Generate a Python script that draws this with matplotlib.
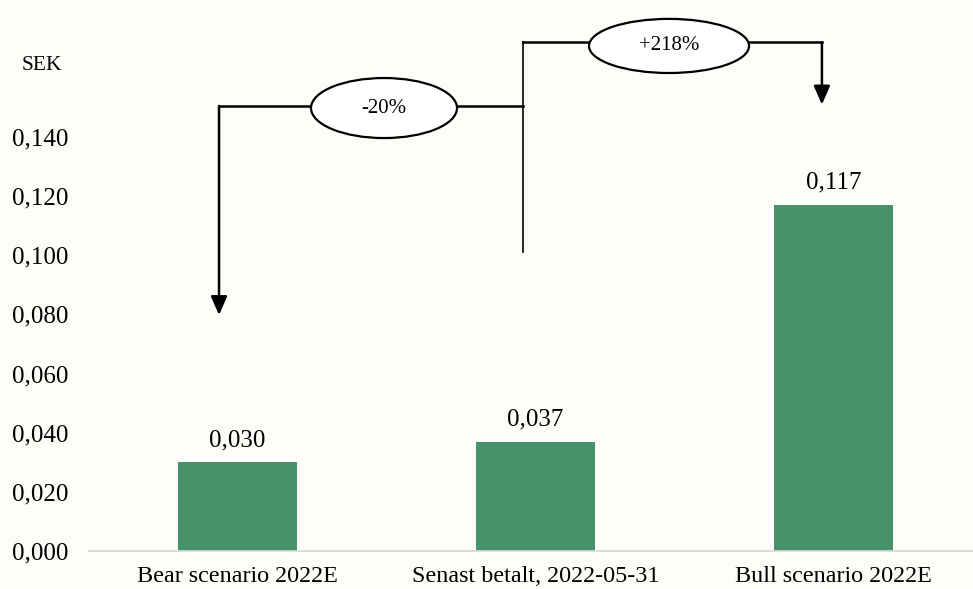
import matplotlib
matplotlib.use("Agg")
import matplotlib.pyplot as plt
from matplotlib.patches import Ellipse

categories = ["Bear scenario 2022E", "Senast betalt, 2022-05-31", "Bull scenario 2022E"]
values = [0.030, 0.037, 0.117]
yticks = [0.00, 0.02, 0.04, 0.06, 0.08, 0.10, 0.12, 0.14]
change_labels = ["-20%", "+218%"]

BG = "#fefdf9"
BAR = "#46936a"
plt.rcParams['font.family'] = ['Liberation Serif', 'DejaVu Serif']

fig = plt.figure(figsize=(9.73, 5.89), dpi=100, facecolor=BG)
ax = fig.add_axes([88.5/973, 1-551/589, 1-88.5/973, 551/589])
ax.set_facecolor(BG)

x = list(range(len(categories)))
ax.bar(x, values, width=0.4, color=BAR, zorder=2)
ax.set_xlim(-0.5, 2.468)
ax.set_ylim(0, 551/2957)

for s in ["top", "right", "left"]:
    ax.spines[s].set_visible(False)
ax.spines["bottom"].set_color("#d9d9d9")
ax.spines["bottom"].set_linewidth(1.3)

ax.set_yticks(yticks)
ax.set_yticklabels([f"{v:.3f}".replace(".", ",") for v in yticks], fontsize=18)
ax.set_xticks(x)
ax.set_xticklabels(categories, fontsize=17.4)
ax.tick_params(axis="y", length=0, pad=14.4)
ax.tick_params(axis="x", length=0, pad=11)

for xi, v in zip(x, values):
    ax.annotate(f"{v:.3f}".replace(".", ","), (xi, v), xytext=(0, 8),
                textcoords="offset points", ha="center", va="bottom", fontsize=18)

fig.text(22/973, 1-66/589, "SEK", fontsize=15.5, va="center", ha="left")

lw = 1.8
ap = dict(arrowstyle="-|>,head_length=0.75,head_width=0.33", mutation_scale=15,
          lw=lw, color="black", shrinkA=0, shrinkB=0)

x0 = x[0] - 0.062
x1 = x[1] - 0.042
x2 = x[2] - 0.039
y_top1 = 0.1505
y_top2 = 0.172
ax.plot([x0, x1], [y_top1, y_top1], color="black", lw=lw, clip_on=False, zorder=3, solid_capstyle="projecting")
ax.annotate("", xy=(x0, 0.0798), xytext=(x0, y_top1), arrowprops=ap, annotation_clip=False)
ax.plot([x1, x1], [0.101, y_top2], color="black", lw=1.2, clip_on=False, zorder=3)
ax.plot([x1, x2], [y_top2, y_top2], color="black", lw=lw, clip_on=False, zorder=3, solid_capstyle="projecting")
ax.annotate("", xy=(x2, 0.151), xytext=(x2, y_top2), arrowprops=ap, annotation_clip=False)

e1 = Ellipse((0.4916, 0.1498), 0.49, 0.0203, facecolor="white", edgecolor="black", lw=1.6, zorder=4, clip_on=False)
e2 = Ellipse((1.448, 0.1708), 0.537, 0.0183, facecolor="white", edgecolor="black", lw=1.6, zorder=4, clip_on=False)
ax.add_patch(e1)
ax.add_patch(e2)
ax.text(0.4916, 0.1498, change_labels[0], ha="center", va="center", fontsize=15, zorder=5)
ax.text(1.448, 0.1708, change_labels[1], ha="center", va="center", fontsize=15, zorder=5)

fig.savefig("out.png", dpi=100, facecolor=BG)
